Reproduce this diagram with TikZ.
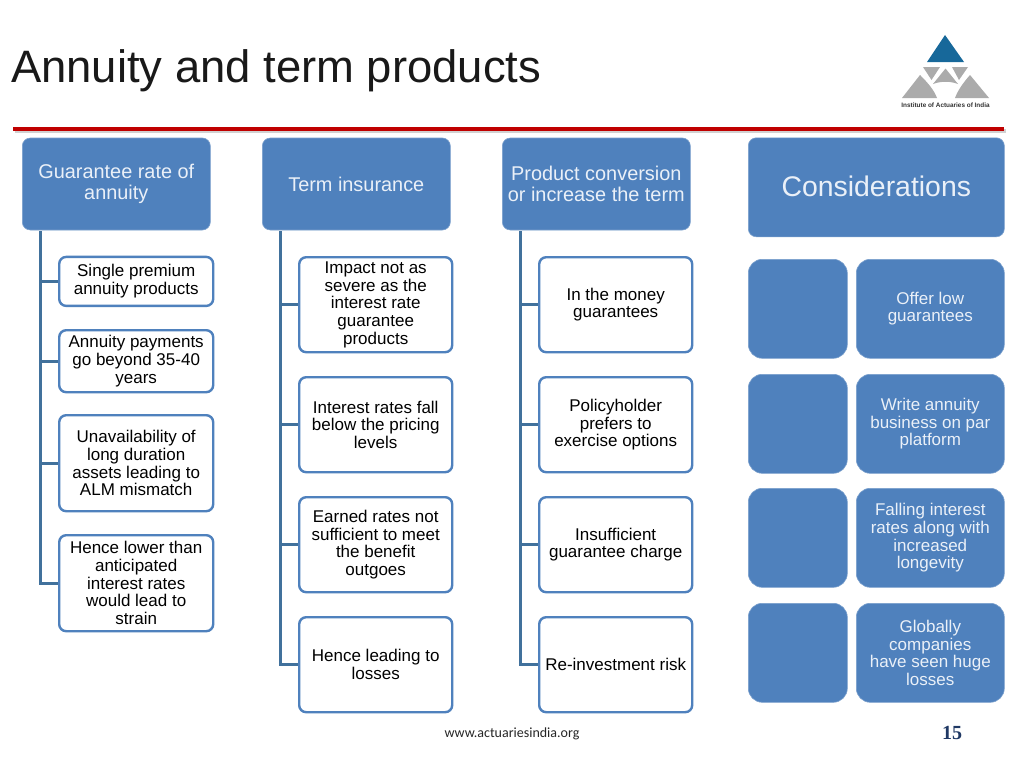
\documentclass[tikz,border=0pt]{standalone}
\usepackage{fontspec}
\setmainfont{Liberation Sans}
\newfontfamily\footfont{Carlito}
\newfontfamily\numfont{Liberation Serif}
\definecolor{boxblue}{HTML}{4F81BD}
\definecolor{spineblue}{HTML}{41719C}
\definecolor{headtext}{HTML}{EAF0F8}
\definecolor{barred}{HTML}{C00000}
\definecolor{logoblue}{HTML}{17689A}
\definecolor{logogray}{HTML}{ABABAB}
\definecolor{numblue}{HTML}{1F3864}
\tikzset{
  x=1pt,y=-1pt,
  headbox/.style={fill=boxblue,draw=boxblue!75!white,line width=.6pt,rounded corners=8pt,text=headtext,align=center,inner sep=0pt,font=\fontsize{19.9}{21}\selectfont,anchor=north west},
  sidebox/.style={headbox,rounded corners=14pt,font=\fontsize{17}{17.6}\selectfont},
  childbox/.style={fill=white,draw=boxblue,line width=2.4pt,rounded corners=7pt,text=black,align=center,inner sep=0pt,font=\fontsize{17}{17.7}\selectfont,anchor=north west},
  spine/.style={draw=spineblue,line width=3pt},
}
\begin{document}
\begin{tikzpicture}
\useasboundingbox (0,0) rectangle (1024,768);
\fill[white] (0,0) rectangle (1024,768);
\node[anchor=west,inner sep=0pt,font=\fontsize{45.4}{50}\selectfont,text=black!90] (title) at (11,71) {Annuity and term products};
% red bar
\fill[black!18] (15,129) rectangle (1006,133);
\fill[barred] (13,126.5) rectangle (1004,131);
% headers
\node[headbox,minimum width=188pt,minimum height=92pt] (h1) at (22,137.7) {Guarantee rate of\\annuity};
\node[headbox,minimum width=188pt,minimum height=92pt] (h2) at (262,137.7) {Term insurance};
\node[headbox,minimum width=188pt,minimum height=92pt] (h3) at (502,137.7) {Product conversion\\or increase the term};
\node[headbox,font=\fontsize{28.4}{30}\selectfont,minimum width=256pt,minimum height=99pt] (h4) at (748,137.5) {\raisebox{1.5pt}{Considerations}};
% spines
\coordinate (s1) at (40,231);
\coordinate (s2) at (280,231);
\coordinate (s3) at (520,231);
% column 1
\node[childbox,minimum width=154pt,minimum height=49pt] (a1) at (58,255.7) {Single premium\\annuity products};
\node[childbox,minimum width=154pt,minimum height=62pt] (a2) at (58,329) {Annuity payments\\go beyond 35-40\\years};
\node[childbox,minimum width=154pt,minimum height=96pt] (a3) at (58,414) {Unavailability of\\long duration\\assets leading to\\ALM mismatch};
\node[childbox,minimum width=154pt,minimum height=96pt] (a4) at (58,534) {Hence lower than\\anticipated\\interest rates\\would lead to\\strain};
% column 2
\node[childbox,minimum width=153pt,minimum height=95pt] (b1) at (298,256) {Impact not as\\severe as the\\interest rate\\guarantee\\products};
\node[childbox,minimum width=153pt,minimum height=95pt] (b2) at (298,376) {Interest rates fall\\below the pricing\\levels};
\node[childbox,minimum width=153pt,minimum height=95pt] (b3) at (298,496) {Earned rates not\\sufficient to meet\\the benefit\\outgoes};
\node[childbox,minimum width=153pt,minimum height=95pt] (b4) at (298,616) {Hence leading to\\losses};
% column 3
\node[childbox,minimum width=153pt,minimum height=95pt] (c1) at (538,256) {In the money\\guarantees};
\node[childbox,minimum width=153pt,minimum height=95pt] (c2) at (538,376) {Policyholder\\prefers to\\exercise options};
\node[childbox,minimum width=153pt,minimum height=95pt] (c3) at (538,496) {Insufficient\\guarantee charge};
\node[childbox,minimum width=153pt,minimum height=95pt] (c4) at (538,616) {Re-investment risk};
% connectors
\draw[spine] (s1) |- (a4.west);
\draw[spine] (s1) |- (a1.west);
\draw[spine] (s1) |- (a2.west);
\draw[spine] (s1) |- (a3.west);
\draw[spine] (s2) |- (b4.west);
\draw[spine] (s2) |- (b1.west);
\draw[spine] (s2) |- (b2.west);
\draw[spine] (s2) |- (b3.west);
\draw[spine] (s3) |- (c4.west);
\draw[spine] (s3) |- (c1.west);
\draw[spine] (s3) |- (c2.west);
\draw[spine] (s3) |- (c3.west);
% considerations
\node[sidebox,minimum width=99pt,minimum height=99pt] (l1) at (748,259) {};
\node[sidebox,minimum width=99pt,minimum height=99pt] (l2) at (748,374) {};
\node[sidebox,minimum width=99pt,minimum height=99pt] (l3) at (748,488) {};
\node[sidebox,minimum width=99pt,minimum height=99pt] (l4) at (748,603) {};
\node[sidebox,minimum width=148pt,minimum height=99pt] (r1) at (856,259) {Offer low\\guarantees};
\node[sidebox,minimum width=148pt,minimum height=99pt] (r2) at (856,374) {Write annuity\\business on par\\platform};
\node[sidebox,minimum width=148pt,minimum height=99pt] (r3) at (856,488) {Falling interest\\rates along with\\increased\\longevity};
\node[sidebox,minimum width=148pt,minimum height=99pt] (r4) at (856,603) {Globally\\companies\\have seen huge\\losses};
% footer
\node[inner sep=0pt,font=\footfont\fontsize{14}{16}\selectfont,text=black!85] (foot) at (512,734) {www.actuariesindia.org};
\node[inner sep=0pt,font=\numfont\bfseries\fontsize{20}{22}\selectfont,text=numblue] (num) at (952,733) {15};
% logo
\fill[logoblue] (945,35) -- (964,62) -- (927,62) -- cycle;
\fill[logogray] (923,67) -- (940,67) -- (931.5,80) -- cycle;
\fill[logogray] (952,67) -- (968,67) -- (959,80) -- cycle;
\fill[logogray] (945.5,68.5) -- (958,84) .. controls (950,81) and (941,81) .. (933,84) -- cycle;
\fill[logogray] (920,75) -- (902,98) -- (937,98) .. controls (934,90) and (928,83) .. (920,75) -- cycle;
\fill[logogray] (970,75) -- (989,98) -- (955,98) .. controls (958,90) and (963,83) .. (970,75) -- cycle;
\node[inner sep=0pt,font=\bfseries\fontsize{6.4}{7}\selectfont,text=black!80] (logotext) at (945.5,105.5) {Institute of Actuaries of India};
\end{tikzpicture}
\end{document}
